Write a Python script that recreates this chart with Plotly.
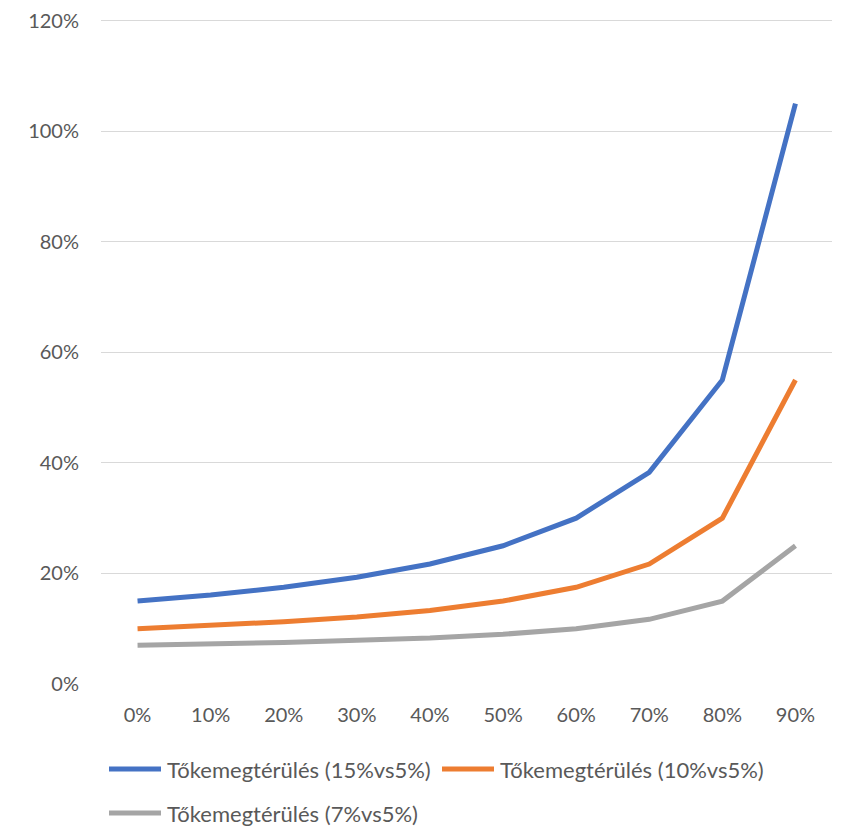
import plotly.graph_objects as go

categories = ["0%", "10%", "20%", "30%", "40%", "50%", "60%", "70%", "80%", "90%"]
roe_15 = [15, 16.1, 17.5, 19.3, 21.7, 25, 30, 38.3, 55, 105]
roe_10 = [10, 10.6, 11.25, 12.1, 13.3, 15, 17.5, 21.7, 30, 55]
roe_7 = [7, 7.2, 7.5, 7.9, 8.3, 9, 10, 11.7, 15, 25]
names = ["Tőkemegtérülés (15%vs5%)", "Tőkemegtérülés (10%vs5%)", "Tőkemegtérülés (7%vs5%)"]
colors = ["#4472C4", "#ED7D31", "#A5A5A5"]
y_ticks = [0, 20, 40, 60, 80, 100, 120]
y_labels = ["0%", "20%", "40%", "60%", "80%", "100%", "120%"]

fig = go.Figure()
for vals, name, col in zip([roe_15, roe_10, roe_7], names, colors):
    fig.add_trace(go.Scatter(x=categories, y=vals, name=name, mode="lines",
                             line=dict(color=col, width=5), showlegend=False))

tick_font = dict(family="Lato, Liberation Sans, sans-serif", size=20, color="#595959")
leg_font = dict(family="Lato, Liberation Sans, sans-serif", size=22, color="#595959")

# plot area geometry (px); page shows figure offset by 8px body margin
L, R, T, B = 93, 17, 11, 151
W = 841 - L - R
H = 827 - T - B

def px_x(x):
    return (x - 101) / W

def px_y(y):
    return (684 - y) / H

legend_pos = [(107, 769), (440, 769), (107, 813)]
for (lx, ly), name, col in zip(legend_pos, names, colors):
    fig.add_shape(type="line", xref="paper", yref="paper",
                  x0=px_x(lx + 2), x1=px_x(lx + 54), y0=px_y(ly), y1=px_y(ly),
                  line=dict(color=col, width=5))
    fig.add_annotation(xref="paper", yref="paper", x=px_x(lx + 58), y=px_y(ly),
                       text=name, showarrow=False, xanchor="left", yanchor="middle",
                       font=leg_font)

fig.update_layout(
    width=841, height=827,
    margin=dict(l=L, r=R, t=T, b=B),
    plot_bgcolor="white", paper_bgcolor="white",
    font=tick_font,
    showlegend=False,
)
fig.update_xaxes(type="category", range=[-0.5, 9.5], showgrid=False,
                 showline=False, zeroline=False, ticks="", tickfont=tick_font,
                 ticklabelstandoff=17, automargin=False)
fig.update_yaxes(range=[0, 120.3], tickvals=y_ticks, ticktext=y_labels,
                 showgrid=True, gridcolor="#D9D9D9", gridwidth=1.3,
                 zeroline=False, showline=False, ticks="", tickfont=tick_font,
                 ticklabelstandoff=21, automargin=False, ticklabeloverflow="allow")
fig.write_html("out.html")
